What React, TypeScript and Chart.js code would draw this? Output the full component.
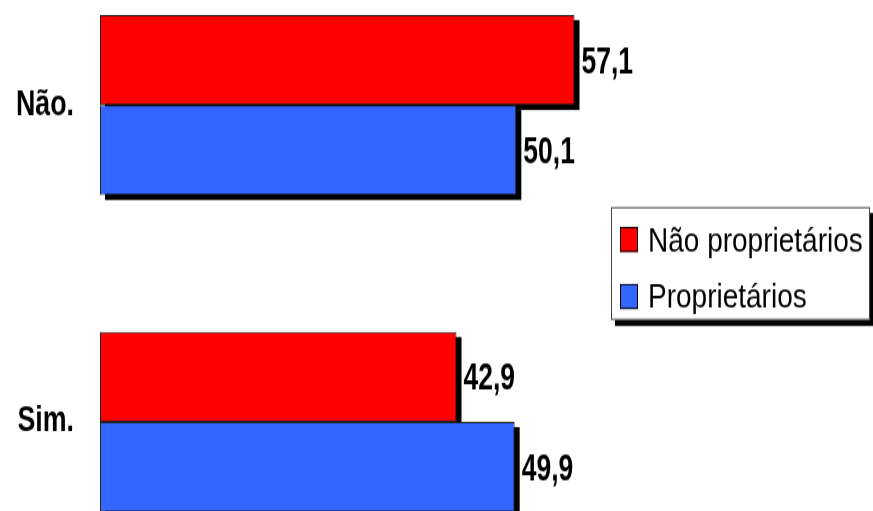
import { useEffect, useRef } from "react";
import { Chart, registerables } from "chart.js";

Chart.register(...registerables);

const categories = ["Não.", "Sim."];
const seriesNames = ["Não proprietários", "Proprietários"];
const naoProprietarios = [57.1, 42.9];
const proprietarios = [50.1, 49.9];
const seriesColors = ["#FF0000", "#3366FF"];

// vertical stretch of the rendering (the reference is a stretched image)
const S = 1.3;
const CW = 873;
const CH = 590;
const TOP = -115;
const toI = (yd: number) => (yd - TOP) / S;

const FONT = '"Liberation Sans", Arial, sans-serif';

const shadowPlugin = {
  id: "barShadow",
  beforeDatasetsDraw(chart: any) {
    const ctx = chart.ctx;
    ctx.save();
    ctx.fillStyle = "#000";
    chart.data.datasets.forEach((_d: any, i: number) => {
      const meta = chart.getDatasetMeta(i);
      meta.data.forEach((el: any) => {
        const p = el.getProps(["x", "y", "base", "height"], true);
        const x0 = Math.min(p.base, p.x);
        ctx.fillRect(x0 + 5, p.y - p.height / 2 + 5 / S, Math.abs(p.x - p.base), p.height);
      });
    });
    ctx.restore();
  },
};

const valueLabelPlugin = {
  id: "valueLabels",
  afterDatasetsDraw(chart: any) {
    const ctx = chart.ctx;
    const k = 1.45 / S;
    ctx.save();
    ctx.fillStyle = "#000";
    ctx.font = `bold 26.5px ${FONT}`;
    ctx.textAlign = "left";
    ctx.textBaseline = "alphabetic";
    chart.data.datasets.forEach((ds: any, i: number) => {
      const meta = chart.getDatasetMeta(i);
      meta.data.forEach((el: any, j: number) => {
        const p = el.getProps(["x", "y"], true);
        const txt = Number(ds.data[j]).toFixed(1).replace(".", ",");
        ctx.save();
        ctx.translate(p.x + 7, p.y + 10);
        ctx.scale(1, k);
        ctx.fillText(txt, 0, 0);
        ctx.restore();
      });
    });
    ctx.restore();
  },
};

const legendPlugin = {
  id: "boxLegend",
  afterDraw(chart: any) {
    const ctx = chart.ctx;
    const bx = 611;
    const by = toI(207);
    const bw = 259;
    const bh = (320 - 207) / S;
    ctx.save();
    ctx.fillStyle = "#000";
    ctx.fillRect(bx + 4, by + 6 / S, bw, bh);
    ctx.fillStyle = "#fff";
    ctx.fillRect(bx, by, bw, bh);
    ctx.strokeStyle = "#444";
    ctx.lineWidth = 1;
    ctx.strokeRect(bx + 0.5, by + 0.5, bw - 1, bh - 1);
    const rowsTop = [toI(227), toI(284)];
    const baselines = [toI(252), toI(307)];
    ctx.font = `28px ${FONT}`;
    ctx.textAlign = "left";
    ctx.textBaseline = "alphabetic";
    const k = 1.2 / S;
    chart.data.datasets.forEach((ds: any, i: number) => {
      ctx.fillStyle = ds.backgroundColor;
      ctx.fillRect(620, rowsTop[i], 18, 25 / S);
      ctx.strokeStyle = "#000";
      ctx.strokeRect(620.5, rowsTop[i] + 0.5, 17, 25 / S - 1);
      ctx.fillStyle = "#000";
      ctx.save();
      ctx.translate(648, baselines[i]);
      ctx.scale(1, k);
      ctx.fillText(ds.label, 0, 0);
      ctx.restore();
    });
    ctx.restore();
  },
};

export default function App() {
  const ref = useRef<HTMLCanvasElement | null>(null);

  useEffect(() => {
    if (!ref.current) return;
    const xMax = 80;
    const pxPerUnit = 8.31;
    const chart = new Chart(ref.current, {
      type: "bar",
      data: {
        labels: categories,
        datasets: [
          {
            label: seriesNames[0],
            data: naoProprietarios,
            backgroundColor: seriesColors[0],
            borderColor: "#222",
            borderWidth: 1,
            borderSkipped: false,
          },
          {
            label: seriesNames[1],
            data: proprietarios,
            backgroundColor: seriesColors[1],
            borderColor: "#222",
            borderWidth: 1,
            borderSkipped: false,
          },
        ],
      },
      options: {
        indexAxis: "y",
        responsive: false,
        animation: false,
        devicePixelRatio: 1,
        layout: {
          padding: {
            left: 0,
            right: CW - (100 + xMax * pxPerUnit),
            top: toI(-53.5),
            bottom: CH - toI(580.5),
          },
        },
        datasets: {
          bar: { categoryPercentage: 0.5678, barPercentage: 1 },
        },
        plugins: {
          legend: { display: false },
          tooltip: { enabled: false },
          title: { display: false },
        },
        scales: {
          x: { type: "linear", min: 0, max: xMax, display: false },
          y: {
            type: "category",
            grid: { display: false, drawTicks: false },
            border: { display: false },
            ticks: {
              color: "#000",
              padding: 26,
              font: { family: FONT, size: 26.8, weight: "bold" },
            },
            afterFit(scale: any) {
              scale.width = 100;
            },
          },
        },
      },
      plugins: [shadowPlugin, valueLabelPlugin, legendPlugin],
    } as any);
    return () => chart.destroy();
  }, []);

  return (
    <div
      style={{
        position: "fixed",
        left: 0,
        top: 0,
        width: 873,
        height: 511,
        overflow: "hidden",
        background: "#fff",
      }}
    >
      <canvas
        ref={ref}
        width={CW}
        height={CH}
        style={{
          position: "absolute",
          left: 0,
          top: TOP,
          width: `${CW}px`,
          height: `${CH * S}px`,
          display: "block",
        }}
      />
    </div>
  );
}
